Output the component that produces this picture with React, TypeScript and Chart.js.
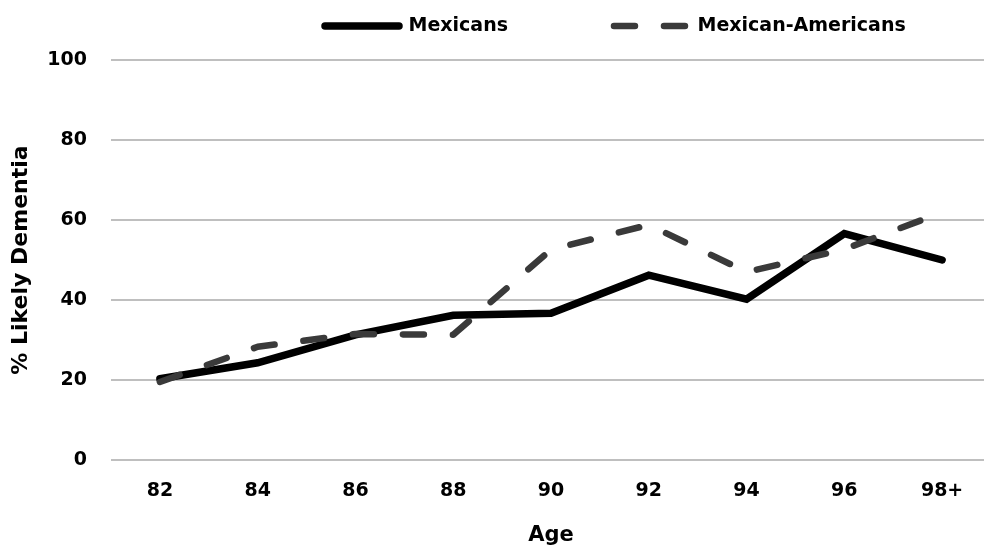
import React, { useEffect, useRef } from "react";
import { Chart, registerables } from "chart.js";

Chart.register(...registerables);

const ages = ["82", "84", "86", "88", "90", "92", "94", "96", "98+"];
const mexicans = [20.3, 24.3, 31.3, 36.2, 36.7, 46.2, 40.2, 56.6, 50.0];
const mexicanAmericans = [19.5, 28.3, 31.5, 31.3, 52.6, 58.8, 47.0, 52.7, 61.9];
const yTicks = [0, 20, 40, 60, 80, 100];

const LEGEND_PAD = 106;

const legendShift = {
  id: "legendShift",
  afterLayout(chart: any) {
    const lg = chart.legend;
    if (!lg) return;
    const fs = 19;
    lg.left = 325 - LEGEND_PAD;
    lg.right = 3000;
    lg.top = 26 - fs / 2 - LEGEND_PAD;
  },
};

export default function App() {
  const ref = useRef<HTMLCanvasElement | null>(null);
  useEffect(() => {
    document.body.style.margin = "0";
    document.body.style.overflow = "hidden";
    Chart.defaults.font.family = "'DejaVu Sans', sans-serif";
    Chart.defaults.color = "#000";
    const chart = new Chart(ref.current as HTMLCanvasElement, {
      type: "line",
      data: {
        labels: ages,
        datasets: [
          {
            label: "Mexicans",
            data: mexicans,
            borderColor: "#000000",
            backgroundColor: "#000000",
            borderWidth: 7.5,
            borderCapStyle: "round",
            borderJoinStyle: "miter",
            pointRadius: 0,
            tension: 0,
            order: 1,
          },
          {
            label: "Mexican-Americans",
            data: mexicanAmericans,
            borderColor: "#3a3a3a",
            backgroundColor: "#3a3a3a",
            borderWidth: 6.5,
            borderDash: [21, 29],
            borderCapStyle: "round",
            borderJoinStyle: "round",
            pointRadius: 0,
            tension: 0,
            order: 0,
          },
        ],
      },
      options: {
        animation: false,
        responsive: true,
        maintainAspectRatio: false,
        layout: { padding: { left: 8, right: 9, top: 0, bottom: 2 } },
        plugins: {
          tooltip: { enabled: false },
          legend: {
            position: "top",
            align: "start",
            maxHeight: 60,
            labels: {
              usePointStyle: true,
              pointStyle: "line",
              pointStyleWidth: 74,
              padding: LEGEND_PAD,
              color: "#000",
              font: { size: 19, weight: "bold" },
              generateLabels: (c: any) =>
                c.data.datasets.map((ds: any, i: number) => ({
                  text: ds.label,
                  fillStyle: ds.borderColor,
                  strokeStyle: ds.borderColor,
                  fontColor: "#000",
                  lineWidth: ds.borderWidth,
                  lineDash: ds.borderDash || [],
                  lineDashOffset: 0,
                  lineCap: "round",
                  lineJoin: "round",
                  pointStyle: "line",
                  rotation: 0,
                  hidden: false,
                  datasetIndex: i,
                })),
            },
          },
        },
        scales: {
          x: {
            offset: true,
            afterFit: (s: any) => {
              s.height = 88;
            },
            grid: { display: false, drawTicks: false },
            border: { display: false },
            ticks: { padding: 20, color: "#000", font: { size: 19, weight: "bold" } },
            title: {
              display: true,
              text: "Age",
              color: "#000",
              font: { size: 21, weight: "bold" },
              padding: { top: 0, bottom: 0 },
            },
          },
          y: {
            min: 0,
            max: 100,
            afterFit: (s: any) => {
              s.width = 103;
            },
            afterBuildTicks: (axis: any) => {
              axis.ticks = yTicks.map((v) => ({ value: v }));
            },
            grid: { color: "#bfbfbf", lineWidth: 2, drawTicks: false },
            border: { display: false },
            ticks: { padding: 24, color: "#000", font: { size: 19, weight: "bold" } },
            title: {
              display: true,
              text: "% Likely Dementia",
              color: "#000",
              font: { size: 22, weight: "bold" },
              padding: { top: 0, bottom: 0 },
            },
          },
        },
      },
      plugins: [legendShift],
    } as any);
    return () => chart.destroy();
  }, []);
  return (
    <div style={{ position: "absolute", left: 0, top: 0, width: 984, height: 550, overflow: "hidden", background: "#fff" }}>
      <div style={{ position: "relative", width: 1000, height: 550 }}>
        <canvas ref={ref} />
      </div>
    </div>
  );
}
